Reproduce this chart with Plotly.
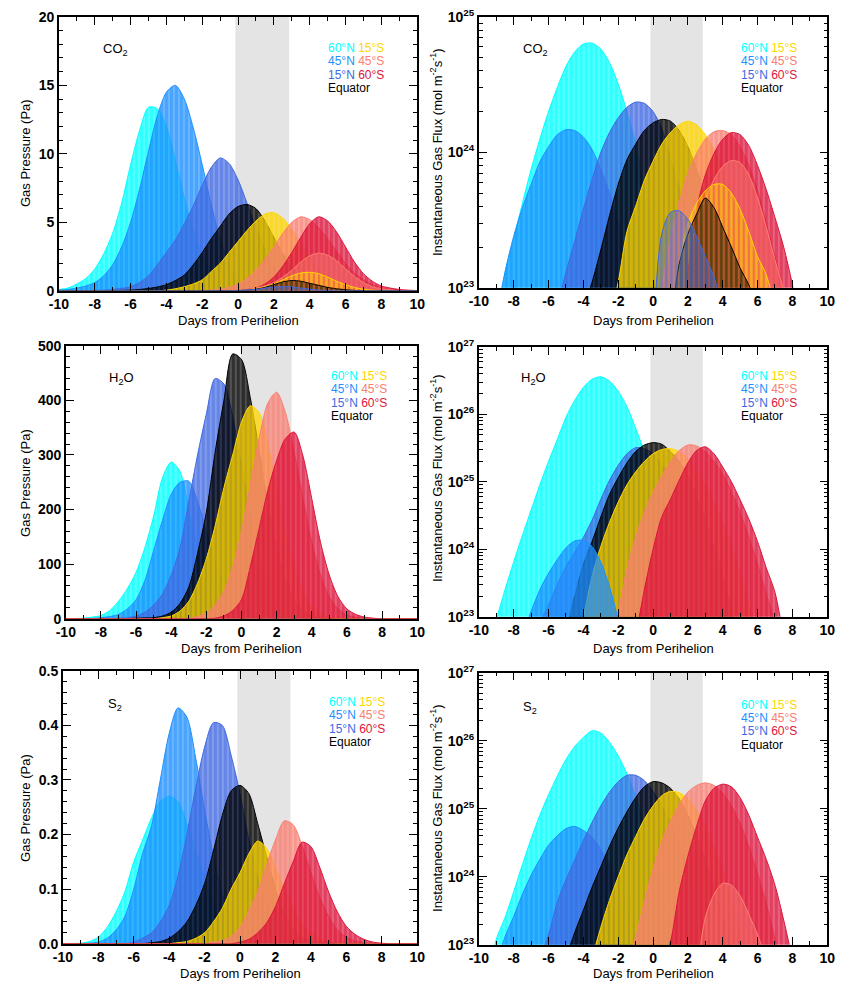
import plotly.graph_objects as go

# ---------------- data ----------------
DAYS = [-10.0, -9.5, -9.0, -8.5, -8.0, -7.5, -7.0, -6.5, -6.0, -5.5,
        -5.0, -4.5, -4.0, -3.5, -3.0, -2.5, -2.0, -1.5, -1.0, -0.5,
        0.0, 0.5, 1.0, 1.5, 2.0, 2.5, 3.0, 3.5, 4.0, 4.5,
        5.0, 5.5, 6.0, 6.5, 7.0, 7.5, 8.0, 8.5, 9.0, 9.5, 10.0]

XTICKS = [-10, -8, -6, -4, -2, 0, 2, 4, 6, 8, 10]
XTICK_LABELS = ["-10", "-8", "-6", "-4", "-2", "0", "2", "4", "6", "8", "10"]

COLORS = {"60N": "#00FFFF", "45N": "#1E90FF", "15N": "#4169E1", "EQ": "#000000",
          "15S": "#FFD700", "45S": "#FA8072", "60S": "#DC143C"}

PERIHELION_BAND = [-0.15, 2.85]

# ---- CO2 gas pressure (Pa) ----
CO2_P_60N = [0.1, 0.2, 0.5, 0.9, 1.6, 2.7, 4.2, 6.4, 9.2, 11.7,
             13.4, 13.3, 12.0, 9.5, 6.8, 4.4, 2.6, 1.4, 0.7, 0.3,
             0.12, 0.05, 0, 0, 0, 0, 0, 0, 0, 0,
             0, 0, 0, 0, 0, 0, 0, 0, 0, 0, 0]
CO2_P_45N = [0.05, 0.1, 0.2, 0.35, 0.6, 1.1, 1.9, 3.2, 5.0, 7.4,
             10.2, 12.8, 14.5, 15.0, 14.0, 11.9, 9.2, 6.3, 3.8, 2.0,
             0.9, 0.4, 0.15, 0.05, 0, 0, 0, 0, 0, 0,
             0, 0, 0, 0, 0, 0, 0, 0, 0, 0, 0]
CO2_P_15N = [0, 0, 0, 0, 0.02, 0.05, 0.1, 0.18, 0.3, 0.6,
             1.1, 1.9, 2.8, 3.7, 4.9, 6.2, 7.7, 9.0, 9.7, 9.3,
             8.1, 6.4, 4.6, 3.0, 1.8, 1.0, 0.5, 0.25, 0.1, 0.05,
             0, 0, 0, 0, 0, 0, 0, 0, 0, 0, 0]
CO2_P_EQ = [0, 0, 0, 0, 0, 0, 0.02, 0.03, 0.05, 0.1,
            0.17, 0.28, 0.45, 0.75, 1.15, 1.9, 2.8, 3.8, 4.7, 5.6,
            6.15, 6.3, 6.0, 5.1, 3.9, 2.7, 1.7, 1.0, 0.55, 0.3,
            0.15, 0.07, 0.03, 0, 0, 0, 0, 0, 0, 0, 0]
CO2_P_15S = [0, 0, 0, 0, 0, 0, 0, 0, 0, 0,
             0, 0, 0.05, 0.15, 0.3, 0.5, 0.8, 1.4, 2.0, 2.8,
             3.6, 4.4, 5.1, 5.6, 5.7, 5.3, 4.5, 3.4, 2.4, 1.6,
             1.0, 0.55, 0.3, 0.15, 0.07, 0.03, 0, 0, 0, 0, 0]
CO2_P_45S = [0, 0, 0, 0, 0, 0, 0, 0, 0, 0,
             0, 0, 0, 0, 0, 0, 0, 0.05, 0.12, 0.25,
             0.5, 0.9, 1.5, 2.3, 3.2, 4.2, 5.0, 5.4, 5.2, 4.6,
             3.8, 2.9, 2.0, 1.3, 0.8, 0.45, 0.22, 0.1, 0.05, 0, 0]
CO2_P_60S = [0, 0, 0, 0, 0, 0, 0, 0, 0, 0,
             0, 0, 0, 0, 0, 0, 0, 0, 0, 0,
             0, 0.1, 0.2, 0.5, 1.0, 1.8, 2.8, 3.9, 4.9, 5.4,
             5.1, 4.3, 3.2, 2.1, 1.25, 0.7, 0.35, 0.2, 0.1, 0.05, 0.02]
CO2_P_45S_LOW = [0, 0, 0, 0, 0, 0, 0, 0, 0, 0,
                 0, 0, 0, 0, 0, 0, 0, 0, 0, 0,
                 0, 0.1, 0.2, 0.35, 0.6, 1.0, 1.5, 2.1, 2.55, 2.75,
                 2.6, 2.2, 1.6, 1.05, 0.6, 0.3, 0.15, 0.07, 0, 0, 0]
CO2_P_15S_LOW = [0, 0, 0, 0, 0, 0, 0, 0, 0, 0,
                 0, 0, 0, 0, 0, 0, 0, 0, 0, 0,
                 0, 0.05, 0.15, 0.3, 0.5, 0.8, 1.1, 1.3, 1.35, 1.25,
                 1.0, 0.7, 0.45, 0.25, 0.12, 0.05, 0, 0, 0, 0, 0]
CO2_P_EQ_LOW = [0, 0, 0, 0, 0, 0, 0, 0, 0, 0,
                0, 0, 0, 0, 0, 0, 0, 0, 0, 0,
                0, 0.05, 0.12, 0.25, 0.45, 0.65, 0.75, 0.7, 0.55, 0.4,
                0.25, 0.15, 0.08, 0.03, 0, 0, 0, 0, 0, 0, 0]
CO2_P_15N_LOW = [0, 0, 0, 0, 0, 0, 0, 0, 0, 0,
                 0, 0, 0, 0, 0, 0, 0, 0, 0, 0,
                 0.03, 0.06, 0.1, 0.2, 0.28, 0.3, 0.28, 0.2, 0.12, 0.06,
                 0.02, 0, 0, 0, 0, 0, 0, 0, 0, 0, 0]

# ---- CO2 instantaneous gas flux (mol m-2 s-1) ----
CO2_F_60N = [1e22, 2e22, 5e22, 1.3e23, 2.3e23, 4.2e23, 7.5e23, 1.25e24, 2.0e24, 3.0e24,
             4.3e24, 5.5e24, 6.3e24, 6.4e24, 5.8e24, 4.6e24, 3.2e24, 2.0e24, 1.15e24, 5.5e23,
             2.3e23, 8e22, 2e22, 1e22, 1e22, 1e22, 1e22, 1e22, 1e22, 1e22,
             1e22, 1e22, 1e22, 1e22, 1e22, 1e22, 1e22, 1e22, 1e22, 1e22, 1e22]
CO2_F_45N = [1e22, 2e22, 6e22, 1.3e23, 2.4e23, 3.9e23, 5.8e23, 8.5e23, 1.1e24, 1.35e24,
             1.47e24, 1.45e24, 1.3e24, 1.05e24, 7.5e23, 5e23, 3e23, 1.7e23, 9e22, 4e22,
             1e22, 1e22, 1e22, 1e22, 1e22, 1e22, 1e22, 1e22, 1e22, 1e22,
             1e22, 1e22, 1e22, 1e22, 1e22, 1e22, 1e22, 1e22, 1e22, 1e22, 1e22]
CO2_F_15N = [1e22, 1e22, 1e22, 1e22, 1e22, 1e22, 1e22, 1e22, 3e22, 7e22,
             1.3e23, 2.2e23, 3.8e23, 6.3e23, 1.0e24, 1.4e24, 1.8e24, 2.15e24, 2.35e24, 2.3e24,
             2.0e24, 1.5e24, 9e23, 5.5e23, 3.3e23, 2.2e23, 1.6e23, 1.15e23, 8e22, 3e22,
             1e22, 1e22, 1e22, 1e22, 1e22, 1e22, 1e22, 1e22, 1e22, 1e22, 1e22]
CO2_F_EQ = [1e22, 1e22, 1e22, 1e22, 1e22, 1e22, 1e22, 1e22, 1e22, 1e22,
            2e22, 4e22, 7e22, 1.1e23, 1.9e23, 3.4e23, 5.8e23, 8.8e23, 1.15e24, 1.45e24,
            1.65e24, 1.75e24, 1.7e24, 1.45e24, 1.1e24, 7.5e23, 4.8e23, 3.6e23, 2.6e23, 1.9e23,
            1.35e23, 1.0e23, 7e22, 3e22, 1e22, 1e22, 1e22, 1e22, 1e22, 1e22, 1e22]
CO2_F_15S = [1e22, 1e22, 1e22, 1e22, 1e22, 1e22, 1e22, 1e22, 1e22, 1e22,
             1e22, 1e22, 1e22, 1.5e22, 3e22, 6e22, 1.1e23, 2.6e23, 4.0e23, 6.2e23,
             8.6e23, 1.15e24, 1.4e24, 1.6e24, 1.7e24, 1.6e24, 1.35e24, 1.05e24, 7.5e23, 5e23,
             3.2e23, 2e23, 1.3e23, 9e22, 5e22, 2e22, 1e22, 1e22, 1e22, 1e22, 1e22]
CO2_F_45S = [1e22, 1e22, 1e22, 1e22, 1e22, 1e22, 1e22, 1e22, 1e22, 1e22,
             1e22, 1e22, 1e22, 1e22, 1e22, 1e22, 1e22, 1e22, 1e22, 3e22,
             6e22, 1.05e23, 2.3e23, 4.3e23, 7e23, 9.8e23, 1.25e24, 1.42e24, 1.45e24, 1.35e24,
             1.1e24, 8e23, 5.2e23, 3.0e23, 1.7e23, 9.5e22, 5e22, 2e22, 1e22, 1e22, 1e22]
CO2_F_60S = [1e22, 1e22, 1e22, 1e22, 1e22, 1e22, 1e22, 1e22, 1e22, 1e22,
             1e22, 1e22, 1e22, 1e22, 1e22, 1e22, 1e22, 1e22, 1e22, 1e22,
             1e22, 1e22, 2e22, 5e22, 1.3e23, 3.8e23, 6.8e23, 9.8e23, 1.25e24, 1.4e24,
             1.35e24, 1.12e24, 8e23, 5.3e23, 3.3e23, 2.0e23, 1.05e23, 4e22, 1e22, 1e22, 1e22]
CO2_F_45S_LOW = [1e22, 1e22, 1e22, 1e22, 1e22, 1e22, 1e22, 1e22, 1e22, 1e22,
                 1e22, 1e22, 1e22, 1e22, 1e22, 1e22, 1e22, 1e22, 1e22, 1e22,
                 1e22, 1e22, 1e22, 5e22, 1.5e23, 3e23, 4.5e23, 6.3e23, 7.9e23, 8.7e23,
                 8.4e23, 6.8e23, 4.6e23, 2.8e23, 1.6e23, 9.5e22, 4e22, 1e22, 1e22, 1e22, 1e22]
CO2_F_15S_LOW = [1e22, 1e22, 1e22, 1e22, 1e22, 1e22, 1e22, 1e22, 1e22, 1e22,
                 1e22, 1e22, 1e22, 1e22, 1e22, 1e22, 1e22, 1e22, 1e22, 1e22,
                 1e22, 1e22, 5e22, 1.5e23, 3e23, 4.2e23, 5.2e23, 5.8e23, 5.8e23, 5.0e23,
                 3.8e23, 2.6e23, 1.7e23, 1.25e23, 7e22, 3e22, 1e22, 1e22, 1e22, 1e22, 1e22]
CO2_F_EQ_LOW = [1e22, 1e22, 1e22, 1e22, 1e22, 1e22, 1e22, 1e22, 1e22, 1e22,
                1e22, 1e22, 1e22, 1e22, 1e22, 1e22, 1e22, 1e22, 1e22, 1e22,
                1e22, 1e22, 5e22, 1.5e23, 2.5e23, 3.5e23, 4.6e23, 3.9e23, 2.8e23, 2.0e23,
                1.4e23, 1.05e23, 7e22, 3e22, 1e22, 1e22, 1e22, 1e22, 1e22, 1e22, 1e22]
CO2_F_15N_LOW = [1e22, 1e22, 1e22, 1e22, 1e22, 1e22, 1e22, 1e22, 1e22, 1e22,
                 1e22, 1e22, 1e22, 1e22, 1e22, 1e22, 1e22, 1e22, 1e22, 1e22,
                 5e22, 2.5e23, 3.6e23, 3.7e23, 3.2e23, 2.4e23, 1.7e23, 1.2e23, 7e22, 2e22,
                 1e22, 1e22, 1e22, 1e22, 1e22, 1e22, 1e22, 1e22, 1e22, 1e22, 1e22]

# ---- H2O gas pressure (Pa) ----
H2O_P_60N = [0, 0.5, 1, 3, 6, 15, 32, 55, 85, 130,
             188, 258, 287, 270, 200, 130, 70, 33, 14, 5,
             1.5, 0.5, 0, 0, 0, 0, 0, 0, 0, 0,
             0, 0, 0, 0, 0, 0, 0, 0, 0, 0, 0]
H2O_P_45N = [0, 0, 0, 0.5, 2, 4, 8, 18, 35, 70,
             125, 180, 228, 250, 252, 215, 160, 105, 60, 28,
             10, 3, 1, 0, 0, 0, 0, 0, 0, 0,
             0, 0, 0, 0, 0, 0, 0, 0, 0, 0, 0]
H2O_P_15N = [0, 0, 0, 0, 0, 0, 1, 2, 5, 12,
             25, 45, 80, 130, 215, 300, 375, 440, 430, 370,
             280, 190, 115, 60, 28, 12, 5, 2, 0, 0,
             0, 0, 0, 0, 0, 0, 0, 0, 0, 0, 0]
H2O_P_EQ = [0, 0, 0, 0, 0, 0, 0, 0, 1, 1.5,
            2, 5, 12, 28, 58, 120, 195, 305, 400, 485,
            475, 405, 310, 210, 130, 70, 35, 15, 6, 2,
            0, 0, 0, 0, 0, 0, 0, 0, 0, 0, 0]
H2O_P_15S = [0, 0, 0, 0, 0, 0, 0, 0, 0, 0,
             0, 2, 5, 14, 32, 65, 110, 170, 240, 300,
             360, 390, 378, 320, 240, 160, 95, 50, 22, 9,
             3, 1, 0, 0, 0, 0, 0, 0, 0, 0, 0]
H2O_P_45S = [0, 0, 0, 0, 0, 0, 0, 0, 0, 0,
             0, 0, 0, 0, 1, 4, 10, 25, 50, 95,
             160, 245, 330, 395, 415, 378, 305, 220, 140, 80,
             40, 18, 7, 3, 1, 0, 0, 0, 0, 0, 0]
H2O_P_60S = [0, 0, 0, 0, 0, 0, 0, 0, 0, 0,
             0, 0, 0, 0, 0, 0, 0, 1, 5, 15,
             35, 95, 165, 235, 290, 330, 342, 298, 220, 140,
             80, 40, 18, 8, 3, 1, 0, 0, 0, 0, 0]

# ---- H2O instantaneous gas flux ----
H2O_F_60N = [1e22, 3e22, 9e22, 2.5e23, 6.5e23, 1.6e24, 3.8e24, 9e24, 2.0e25, 4.2e25,
             9e25, 1.6e26, 2.5e26, 3.3e26, 3.6e26, 3.1e26, 2.2e26, 1.3e26, 6.2e25, 2.8e25,
             1.1e25, 4e24, 1.3e24, 4e23, 1.1e23, 3e22, 1e22, 1e22, 1e22, 1e22,
             1e22, 1e22, 1e22, 1e22, 1e22, 1e22, 1e22, 1e22, 1e22, 1e22, 1e22]
H2O_F_45N = [1e22, 1e22, 1e22, 1e22, 1e22, 5e22, 1.2e23, 2.5e23, 4.4e23, 7e23,
             1.05e24, 1.33e24, 1.35e24, 1.1e24, 6.5e23, 2.8e23, 9e22, 2e22, 1e22, 1e22,
             1e22, 1e22, 1e22, 1e22, 1e22, 1e22, 1e22, 1e22, 1e22, 1e22,
             1e22, 1e22, 1e22, 1e22, 1e22, 1e22, 1e22, 1e22, 1e22, 1e22, 1e22]
H2O_F_15N = [1e22, 1e22, 1e22, 1e22, 1e22, 1e22, 3e22, 8e22, 1.5e23, 3e23,
             5.5e23, 9e23, 1.5e24, 2.7e24, 5.5e24, 1.05e25, 1.75e25, 2.6e25, 3.2e25, 3.1e25,
             2.6e25, 1.8e25, 1.1e25, 6e24, 3e24, 1.4e24, 6e23, 2.5e23, 9e22, 3e22,
             1e22, 1e22, 1e22, 1e22, 1e22, 1e22, 1e22, 1e22, 1e22, 1e22, 1e22]
H2O_F_EQ = [1e22, 1e22, 1e22, 1e22, 1e22, 1e22, 1e22, 1e22, 1e22, 2e22,
            6e22, 2e23, 6e23, 1.3e24, 3.0e24, 6.5e24, 1.15e25, 1.9e25, 2.8e25, 3.5e25,
            3.8e25, 3.6e25, 2.8e25, 2e25, 1.2e25, 6e24, 2.8e24, 1.1e24, 4e23, 1.2e23,
            4e22, 1e22, 1e22, 1e22, 1e22, 1e22, 1e22, 1e22, 1e22, 1e22, 1e22]
H2O_F_15S = [1e22, 1e22, 1e22, 1e22, 1e22, 1e22, 1e22, 1e22, 1e22, 1e22,
             1e22, 3e22, 1e23, 4e23, 1.1e24, 2.5e24, 5e24, 9e24, 1.4e25, 2.0e25,
             2.6e25, 3.0e25, 3.1e25, 2.8e25, 2.2e25, 1.5e25, 9e24, 5e24, 2.5e24, 1.1e24,
             4.5e23, 1.5e23, 5e22, 1e22, 1e22, 1e22, 1e22, 1e22, 1e22, 1e22, 1e22]
H2O_F_45S = [1e22, 1e22, 1e22, 1e22, 1e22, 1e22, 1e22, 1e22, 1e22, 1e22,
             1e22, 1e22, 1e22, 1e22, 1e22, 4e22, 1.2e23, 5e23, 1.5e24, 3.5e24,
             7e24, 1.2e25, 2.0e25, 2.9e25, 3.5e25, 3.4e25, 2.8e25, 2.0e25, 1.3e25, 7e24,
             3.5e24, 1.5e24, 6e23, 2.2e23, 8e22, 2e22, 1e22, 1e22, 1e22, 1e22, 1e22]
H2O_F_60S = [1e22, 1e22, 1e22, 1e22, 1e22, 1e22, 1e22, 1e22, 1e22, 1e22,
             1e22, 1e22, 1e22, 1e22, 1e22, 1e22, 1e22, 1e22, 5e22, 2.5e23,
             1.0e24, 3.0e24, 5.5e24, 1.05e25, 1.9e25, 2.9e25, 3.3e25, 2.6e25, 1.65e25, 1.0e25,
             5.4e24, 2.8e24, 1.3e24, 5.3e23, 2.3e23, 5e22, 1e22, 1e22, 1e22, 1e22, 1e22]

# ---- S2 gas pressure (Pa) ----
S2_P_60N = [0, 0.0005, 0.001, 0.004, 0.012, 0.03, 0.058, 0.095, 0.15, 0.19,
            0.23, 0.26, 0.27, 0.26, 0.22, 0.17, 0.12, 0.07, 0.035, 0.015,
            0.005, 0.002, 0, 0, 0, 0, 0, 0, 0, 0,
            0, 0, 0, 0, 0, 0, 0, 0, 0, 0, 0]
S2_P_45N = [0, 0, 0, 0.001, 0.003, 0.01, 0.025, 0.05, 0.1, 0.165,
            0.215, 0.3, 0.385, 0.432, 0.415, 0.34, 0.245, 0.16, 0.09, 0.045,
            0.02, 0.008, 0.003, 0, 0, 0, 0, 0, 0, 0,
            0, 0, 0, 0, 0, 0, 0, 0, 0, 0, 0]
S2_P_15N = [0, 0, 0, 0, 0, 0, 0, 0, 0.003, 0.01,
            0.02, 0.04, 0.07, 0.125, 0.2, 0.285, 0.36, 0.405, 0.4, 0.345,
            0.275, 0.19, 0.12, 0.07, 0.035, 0.015, 0.006, 0.002, 0, 0,
            0, 0, 0, 0, 0, 0, 0, 0, 0, 0, 0]
S2_P_EQ = [0, 0, 0, 0, 0, 0, 0, 0, 0, 0,
           0.002, 0.004, 0.01, 0.022, 0.04, 0.07, 0.11, 0.17, 0.235, 0.28,
           0.29, 0.275, 0.22, 0.16, 0.1, 0.055, 0.027, 0.012, 0.005, 0.002,
           0, 0, 0, 0, 0, 0, 0, 0, 0, 0, 0]
S2_P_15S = [0, 0, 0, 0, 0, 0, 0, 0, 0, 0,
            0, 0, 0, 0.002, 0.004, 0.01, 0.02, 0.04, 0.065, 0.1,
            0.13, 0.165, 0.188, 0.175, 0.14, 0.1, 0.065, 0.038, 0.02, 0.009,
            0.004, 0.001, 0, 0, 0, 0, 0, 0, 0, 0, 0]
S2_P_45S = [0, 0, 0, 0, 0, 0, 0, 0, 0, 0,
            0, 0, 0, 0, 0, 0, 0, 0.003, 0.006, 0.013,
            0.03, 0.06, 0.095, 0.145, 0.19, 0.225, 0.218, 0.18, 0.13, 0.085,
            0.05, 0.025, 0.012, 0.005, 0.002, 0, 0, 0, 0, 0, 0]
S2_P_60S = [0, 0, 0, 0, 0, 0, 0, 0, 0, 0,
            0, 0, 0, 0, 0, 0, 0, 0, 0, 0,
            0.003, 0.008, 0.02, 0.038, 0.068, 0.11, 0.15, 0.186, 0.178, 0.14,
            0.095, 0.058, 0.032, 0.017, 0.008, 0.003, 0.001, 0, 0, 0, 0]

# ---- S2 instantaneous gas flux ----
S2_F_60N = [1e22, 3e22, 1.2e23, 2.5e23, 6e23, 1.5e24, 3.6e24, 8e24, 1.6e25, 3e25,
            5.3e25, 8.2e25, 1.12e26, 1.4e26, 1.3e26, 9.5e25, 6e25, 3.3e25, 1.5e25, 6e24,
            2e24, 6e23, 1.6e23, 4e22, 1e22, 1e22, 1e22, 1e22, 1e22, 1e22,
            1e22, 1e22, 1e22, 1e22, 1e22, 1e22, 1e22, 1e22, 1e22, 1e22, 1e22]
S2_F_45N = [1e22, 1e22, 5e22, 1.3e23, 2.6e23, 5.5e23, 1.05e24, 1.8e24, 2.9e24, 4.0e24,
            5.1e24, 5.5e24, 4.8e24, 3.8e24, 2.5e24, 1.5e24, 8e23, 4e23, 1.8e23, 7e22,
            2e22, 1e22, 1e22, 1e22, 1e22, 1e22, 1e22, 1e22, 1e22, 1e22,
            1e22, 1e22, 1e22, 1e22, 1e22, 1e22, 1e22, 1e22, 1e22, 1e22, 1e22]
S2_F_15N = [1e22, 1e22, 1e22, 1e22, 1e22, 1e22, 1e22, 6e22, 1.4e23, 4.2e23,
            9e23, 1.75e24, 3.4e24, 6.3e24, 1.1e25, 1.75e25, 2.5e25, 3.1e25, 3.1e25, 2.6e25,
            1.8e25, 1.1e25, 6e24, 3e24, 1.3e24, 5e23, 1.8e23, 6e22, 1e22, 1e22,
            1e22, 1e22, 1e22, 1e22, 1e22, 1e22, 1e22, 1e22, 1e22, 1e22, 1e22]
S2_F_EQ = [1e22, 1e22, 1e22, 1e22, 1e22, 1e22, 1e22, 1e22, 1e22, 1e22,
           6e22, 1.5e23, 3.2e23, 7e23, 1.4e24, 2.8e24, 5.2e24, 9e24, 1.45e25, 2.1e25,
           2.5e25, 2.4e25, 2e25, 1.4e25, 8e24, 4e24, 1.8e24, 7e23, 2.5e23, 8e22,
           1e22, 1e22, 1e22, 1e22, 1e22, 1e22, 1e22, 1e22, 1e22, 1e22, 1e22]
S2_F_15S = [1e22, 1e22, 1e22, 1e22, 1e22, 1e22, 1e22, 1e22, 1e22, 1e22,
            1e22, 1e22, 1e22, 6e22, 1.8e23, 4.5e23, 1.0e24, 2.1e24, 3.9e24, 7e24,
            1.1e25, 1.55e25, 1.8e25, 1.72e25, 1.4e25, 9.5e24, 5.5e24, 2.8e24, 1.2e24, 4.5e23,
            1.5e23, 5e22, 1e22, 1e22, 1e22, 1e22, 1e22, 1e22, 1e22, 1e22, 1e22]
S2_F_45S = [1e22, 1e22, 1e22, 1e22, 1e22, 1e22, 1e22, 1e22, 1e22, 1e22,
            1e22, 1e22, 1e22, 1e22, 1e22, 1e22, 1e22, 5e22, 1.3e23, 4.3e23,
            1.3e24, 3.3e24, 6.5e24, 1.15e25, 1.75e25, 2.2e25, 2.4e25, 2.2e25, 1.7e25, 1.1e25,
            6e24, 2.8e24, 1.1e24, 4e23, 1.2e23, 4e22, 1e22, 1e22, 1e22, 1e22, 1e22]
S2_F_60S = [1e22, 1e22, 1e22, 1e22, 1e22, 1e22, 1e22, 1e22, 1e22, 1e22,
            1e22, 1e22, 1e22, 1e22, 1e22, 1e22, 1e22, 1e22, 1e22, 1e22,
            1e22, 5e22, 1.1e23, 6e23, 2e24, 5.5e24, 1.3e25, 2.0e25, 2.3e25, 2.1e25,
            1.45e25, 8e24, 3.8e24, 1.8e24, 7.5e23, 2.3e23, 6e22, 1e22, 1e22, 1e22, 1e22]
S2_F_45S_LOW = [1e22, 1e22, 1e22, 1e22, 1e22, 1e22, 1e22, 1e22, 1e22, 1e22,
                1e22, 1e22, 1e22, 1e22, 1e22, 1e22, 1e22, 1e22, 1e22, 1e22,
                1e22, 1e22, 1e22, 1e22, 1e22, 4e22, 2.5e23, 5.5e23, 8e23, 7.5e23,
                5.2e23, 2.8e23, 1.4e23, 6e22, 2e22, 1e22, 1e22, 1e22, 1e22, 1e22, 1e22]

# ---------------- panel definitions ----------------
# layers: (colour key, values, is_low_envelope)
PANELS = [
    dict(n=1, log=False, label="CO<sub>2</sub>", yr=[0, 20], dtick=5, minor=1, fmt="d",
         px=(50, 416, 7, 286), band=PERIHELION_BAND,
         layers=[("60N", CO2_P_60N, 0), ("45N", CO2_P_45N, 0), ("15N", CO2_P_15N, 0),
                 ("EQ", CO2_P_EQ, 0), ("15S", CO2_P_15S, 0), ("45S", CO2_P_45S, 0),
                 ("60S", CO2_P_60S, 0),
                 ("45S", CO2_P_45S_LOW, 1), ("15S", CO2_P_15S_LOW, 1), ("EQ", CO2_P_EQ_LOW, 1),
                 ("15N", CO2_P_15N_LOW, 1)],
         lab=(108, 40), leg=(323, 39), ytitle=(16, 146), xt=316),
    dict(n=2, log=True, label="CO<sub>2</sub>", yr=[23, 25],
         px=(479, 835, 7, 283), band=PERIHELION_BAND,
         layers=[("60N", CO2_F_60N, 0), ("45N", CO2_F_45N, 0), ("15N", CO2_F_15N, 0),
                 ("EQ", CO2_F_EQ, 0), ("15S", CO2_F_15S, 0), ("45S", CO2_F_45S, 0),
                 ("60S", CO2_F_60S, 0),
                 ("45S", CO2_F_45S_LOW, 1), ("15S", CO2_F_15S_LOW, 1), ("EQ", CO2_F_EQ_LOW, 1),
                 ("15N", CO2_F_15N_LOW, 1)],
         lab=(537, 40), leg=(745, 39), ytitle=(436, 145), xt=316),
    dict(n=3, log=False, label="H<sub>2</sub>O", yr=[0, 500], dtick=100, minor=20, fmt="d",
         px=(57, 416, 342, 620), band=[-0.05, 2.85],
         layers=[("60N", H2O_P_60N, 0), ("45N", H2O_P_45N, 0), ("15N", H2O_P_15N, 0),
                 ("EQ", H2O_P_EQ, 0), ("15S", H2O_P_15S, 0), ("45S", H2O_P_45S, 0),
                 ("60S", H2O_P_60S, 0)],
         lab=(114, 375), leg=(326, 373), ytitle=(16, 482), xt=650),
    dict(n=4, log=True, label="H<sub>2</sub>O", yr=[23, 27],
         px=(479, 835, 343, 618), band=PERIHELION_BAND,
         layers=[("60N", H2O_F_60N, 0), ("15N", H2O_F_15N, 0), ("EQ", H2O_F_EQ, 0),
                 ("15S", H2O_F_15S, 0), ("45S", H2O_F_45S, 0), ("60S", H2O_F_60S, 0),
                 ("45N", H2O_F_45N, 0)],
         lab=(535, 375), leg=(745, 373), ytitle=(436, 477), xt=650),
    dict(n=5, log=False, label="S<sub>2</sub>", yr=[0, 0.5], dtick=0.1, minor=0.02, fmt=".1f",
         px=(54, 416, 673, 951), band=PERIHELION_BAND,
         layers=[("60N", S2_P_60N, 0), ("45N", S2_P_45N, 0), ("15N", S2_P_15N, 0),
                 ("EQ", S2_P_EQ, 0), ("15S", S2_P_15S, 0), ("45S", S2_P_45S, 0),
                 ("60S", S2_P_60S, 0)],
         lab=(107, 707), leg=(324, 705), ytitle=(16, 813), xt=981),
    dict(n=6, log=True, label="S<sub>2</sub>", yr=[23, 27],
         px=(479, 835, 675, 952), band=PERIHELION_BAND,
         layers=[("60N", S2_F_60N, 0), ("45N", S2_F_45N, 0), ("15N", S2_F_15N, 0),
                 ("EQ", S2_F_EQ, 0), ("15S", S2_F_15S, 0), ("45S", S2_F_45S, 0),
                 ("60S", S2_F_60S, 0), ("45S", S2_F_45S_LOW, 1)],
         lab=(531, 710), leg=(745, 708), ytitle=(436, 813), xt=981),
]

W, H = 847, 991
FONT = "Liberation Sans, Arial, Helvetica, sans-serif"


def rgba(hexcol, a):
    h = hexcol.lstrip("#")
    r, g, b = int(h[0:2], 16), int(h[2:4], 16), int(h[4:6], 16)
    return f"rgba({r},{g},{b},{a})"


fig = go.Figure()
annotations = []
shapes = []
layout_axes = {}

for p in PANELS:
    n = p["n"]
    xname = "x" if n == 1 else f"x{n}"
    yname = "y" if n == 1 else f"y{n}"
    xl, xr, yt, yb = p["px"]

    for key, vals, low in p["layers"]:
        assert len(vals) == len(DAYS)
        col = COLORS[key]
        fig.add_trace(go.Scatter(
            x=DAYS, y=vals, xaxis=xname, yaxis=yname, mode="lines",
            line=dict(color=col, width=1, shape="spline", smoothing=0.8),
            fill="tozeroy", fillcolor=rgba(col, 0.8),
            fillpattern=dict(shape="|", size=5, solidity=0.55 if low else 0.7, fgcolor=col,
                             bgcolor=rgba(col, 0.25 if low else 0.62)),
            hoverinfo="skip", showlegend=False))

    axis_line = dict(showline=True, linecolor="black", linewidth=1.5, mirror="ticks",
                     ticks="inside", ticklen=8, tickwidth=1.2, tickcolor="black",
                     showgrid=False, zeroline=False,
                     tickfont=dict(family=FONT, size=14, color="black", weight="bold"))

    layout_axes["xaxis" if n == 1 else f"xaxis{n}"] = dict(
        axis_line, domain=[xl / W, xr / W], anchor=yname, range=[-10, 10],
        tickmode="array", tickvals=XTICKS, ticktext=XTICK_LABELS,
        minor=dict(dtick=1, ticks="inside", ticklen=4, tickwidth=1, tickcolor="black"))

    ydict = dict(axis_line, domain=[1 - yb / H, 1 - yt / H], anchor=xname, range=p["yr"])
    if p["log"]:
        lo, hi = p["yr"]
        dec = list(range(lo, hi + 1))
        ydict.update(type="log", tickmode="array",
                     tickvals=[10.0 ** d for d in dec],
                     ticktext=[f"10<sup>{d}</sup>" for d in dec],
                     minor=dict(tickmode="array",
                                tickvals=[m * 10.0 ** d for d in dec[:-1] for m in range(2, 10)],
                                ticks="inside", ticklen=4, tickwidth=1, tickcolor="black"))
    else:
        ydict.update(dtick=p["dtick"], tick0=0, tickformat=p["fmt"],
                     minor=dict(dtick=p["minor"], ticks="inside", ticklen=4, tickwidth=1,
                                tickcolor="black"))
    layout_axes["yaxis" if n == 1 else f"yaxis{n}"] = ydict

    # perihelion band
    shapes.append(dict(type="rect", xref=xname, yref=f"{yname} domain",
                       x0=p["band"][0], x1=p["band"][1], y0=0, y1=1,
                       fillcolor="#E4E4E4", line=dict(width=0), layer="below"))

    # species label
    lx, ly = p["lab"]
    annotations.append(dict(x=lx / W, y=1 - ly / H, xref="paper", yref="paper",
                            text=p["label"], showarrow=False, xanchor="center",
                            yanchor="middle", font=dict(family=FONT, size=13, color="black")))

    # colour legend
    gx, gy = p["leg"]
    rows = [(("60N", "60°N"), ("15S", "15°S")),
            (("45N", "45°N"), ("45S", "45°S")),
            (("15N", "15°N"), ("60S", "60°S")),
            (("EQ", "Equator"),)]
    for i, row in enumerate(rows):
        txt = " ".join(f"<span style='color:{COLORS[k]}'>{t}</span>" for k, t in row)
        annotations.append(dict(x=gx / W, y=1 - (gy + i * 13.4) / H, xref="paper",
                                yref="paper", text=txt, showarrow=False, xanchor="left",
                                yanchor="middle", font=dict(family=FONT, size=12)))

    # y title
    tx, ty = p["ytitle"]
    ytxt = ("Instantaneous Gas Flux (mol m<sup>-2</sup>s<sup>-1</sup>)" if p["log"]
            else "Gas Pressure (Pa)")
    annotations.append(dict(x=tx / W, y=1 - ty / H, xref="paper", yref="paper", text=ytxt,
                            textangle=-90, showarrow=False, xanchor="center",
                            yanchor="middle", font=dict(family=FONT, size=13, color="black")))

    # x title
    annotations.append(dict(x=(xl + xr) / 2 / W, y=1 - p["xt"] / H, xref="paper", yref="paper",
                            text="Days from Perihelion", showarrow=False, xanchor="center",
                            yanchor="middle", font=dict(family=FONT, size=13, color="black")))

fig.update_layout(width=W, height=H, margin=dict(l=0, r=0, t=0, b=0),
                  paper_bgcolor="white", plot_bgcolor="white", showlegend=False,
                  annotations=annotations, shapes=shapes, **layout_axes)

fig.write_html("out.html", config={"displayModeBar": False},
               post_script="document.body.style.margin='0px';")
